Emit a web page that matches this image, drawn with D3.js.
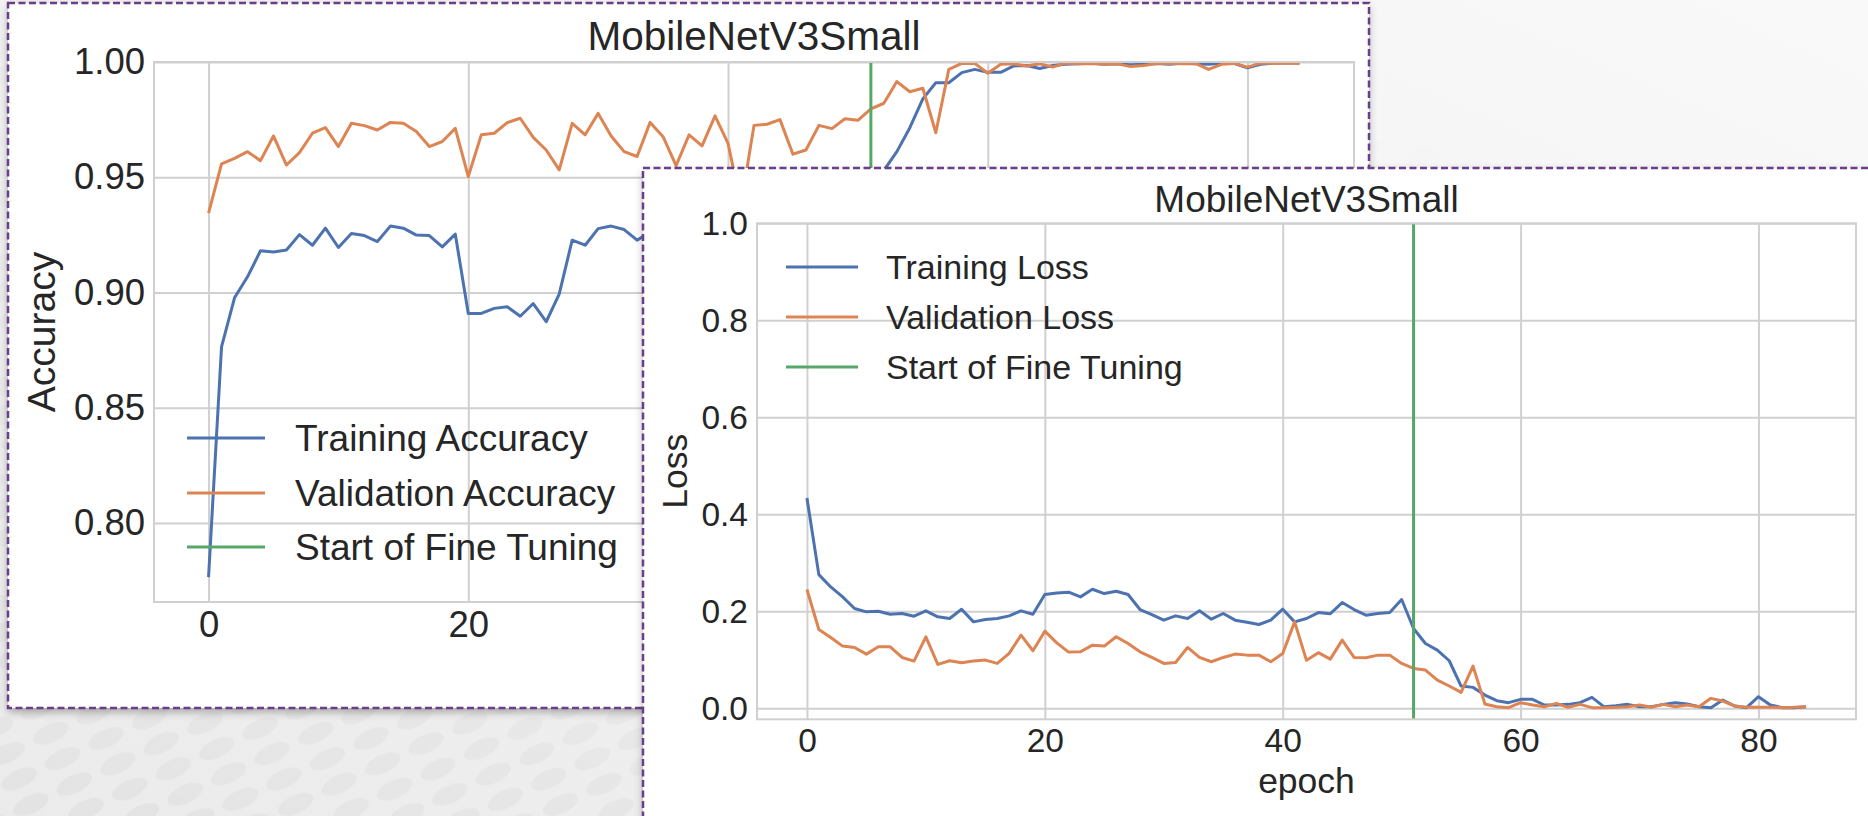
<!DOCTYPE html>
<html lang="en">
<head>
<meta charset="UTF-8" />
<title>MobileNetV3Small - accuracy and loss</title>
<script src="https://cdn.jsdelivr.net/npm/d3@7"></script>
<style>
  body { margin: 0; background: #f2f2f2; }
  svg { display: block; font-family: "Liberation Sans", Arial, sans-serif; }
</style>
</head>
<body>
<svg id="chart" width="1868" height="816"></svg>
<script>
// ---- data ----
const epochs = d3.range(0, 85);
const fineTuneEpoch = 51;
const epochTicks = [0, 20, 40, 60, 80];
const accTicks = [0.80, 0.85, 0.90, 0.95, 1.00];
const lossTicks = [0.0, 0.2, 0.4, 0.6, 0.8, 1.0];

const trainAcc = [
  0.7765, 0.8764, 0.8977, 0.9068, 0.9181, 0.9176, 0.9184, 0.9251, 0.9205, 0.9279,
  0.9195, 0.9256, 0.9247, 0.9221, 0.9288, 0.9279, 0.9249, 0.9247, 0.9198, 0.9253,
  0.8909, 0.8909, 0.8931, 0.8938, 0.8897, 0.8952, 0.8873, 0.8993, 0.9227, 0.9205,
  0.9277, 0.9288, 0.9273, 0.9227, 0.9262, 0.9281, 0.9255, 0.9290, 0.9268, 0.9301,
  0.9275, 0.9250, 0.9287, 0.9296, 0.9270, 0.9305, 0.9284, 0.9299, 0.9310, 0.9288,
  0.9302, 0.9320, 0.9530, 0.9611, 0.9715, 0.9840, 0.9910, 0.9910, 0.9954, 0.9968,
  0.9955, 0.9955, 0.9983, 0.9985, 0.9972, 0.9985, 0.9990, 0.9992, 0.9995, 0.9990,
  0.9992, 0.9988, 0.9990, 0.9993, 0.9990, 0.9995, 0.9992, 0.9990, 0.9995, 0.9993,
  0.9975, 0.9990, 0.9995, 0.9997, 0.9995
];
const valAcc = [
  0.9344, 0.9558, 0.9582, 0.9611, 0.9572, 0.9679, 0.9553, 0.9607, 0.9691, 0.9715,
  0.9633, 0.9734, 0.9724, 0.9705, 0.9738, 0.9734, 0.9698, 0.9633, 0.9655, 0.9712,
  0.9503, 0.9684, 0.9691, 0.9737, 0.9756, 0.9673, 0.9618, 0.9532, 0.9734, 0.9684,
  0.9777, 0.9679, 0.9611, 0.9590, 0.9738, 0.9676, 0.9550, 0.9684, 0.9636, 0.9766,
  0.9647, 0.9380, 0.9725, 0.9730, 0.9750, 0.9600, 0.9618, 0.9725, 0.9711, 0.9754,
  0.9747, 0.9797, 0.9821, 0.9915, 0.9871, 0.9886, 0.9693, 0.9968, 0.9994, 0.9994,
  0.9951, 0.9990, 0.9992, 0.9983, 0.9992, 0.9978, 0.9995, 0.9992, 0.9994, 0.9990,
  0.9992, 0.9980, 0.9985, 0.9993, 0.9995, 0.9992, 0.9994, 0.9968, 0.9990, 0.9994,
  0.9978, 0.9995, 0.9994, 0.9996, 0.9995
];
const trainLoss = [
  0.4335, 0.2757, 0.2503, 0.2298, 0.2058, 0.1989, 0.2003, 0.1941, 0.1955, 0.1900,
  0.2010, 0.1886, 0.1852, 0.2044, 0.1783, 0.1831, 0.1852, 0.1907, 0.2010, 0.1941,
  0.2346, 0.2380, 0.2394, 0.2298, 0.2455, 0.2366, 0.2414, 0.2346, 0.2037, 0.1934,
  0.1818, 0.1907, 0.1852, 0.2010, 0.1838, 0.1955, 0.1818, 0.1776, 0.1728, 0.1818,
  0.2044, 0.1783, 0.1852, 0.1975, 0.1950, 0.2181, 0.2037, 0.1920, 0.1955, 0.1975,
  0.2243, 0.1646, 0.1337, 0.1200, 0.0981, 0.0460, 0.0432, 0.0274, 0.0158, 0.0117,
  0.0185, 0.0185, 0.0069, 0.0069, 0.0082, 0.0117, 0.0226, 0.0034, 0.0055, 0.0082,
  0.0034, 0.0034, 0.0082, 0.0117, 0.0089, 0.0034, 0.0014, 0.0171, 0.0048, 0.0014,
  0.0240, 0.0069, 0.0014, 0.0014, 0.0034
];
const valLoss = [
  0.2449, 0.1626, 0.1461, 0.1283, 0.1255, 0.1118, 0.1269, 0.1269, 0.1049, 0.0974,
  0.1475, 0.0905, 0.0981, 0.0940, 0.0974, 0.0995, 0.0926, 0.1132, 0.1509, 0.1187,
  0.1591, 0.1351, 0.1159, 0.1166, 0.1303, 0.1283, 0.1475, 0.1337, 0.1166, 0.1049,
  0.0926, 0.0947, 0.1255, 0.1049, 0.0960, 0.1049, 0.1118, 0.1097, 0.1097, 0.0960,
  0.1132, 0.1783, 0.0990, 0.1148, 0.1015, 0.1406, 0.1049, 0.1043, 0.1097, 0.1097,
  0.0926, 0.0823, 0.0789, 0.0583, 0.0460, 0.0329, 0.0871, 0.0089, 0.0034, 0.0014,
  0.0117, 0.0069, 0.0034, 0.0103, 0.0021, 0.0082, 0.0014, 0.0014, 0.0021, 0.0034,
  0.0069, 0.0021, 0.0082, 0.0034, 0.0069, 0.0034, 0.0206, 0.0151, 0.0048, 0.0021,
  0.0021, 0.0021, 0.0014, 0.0021, 0.0034
];

const colors = { train: '#4C72B0', val: '#DD8452', tune: '#55A868', grid: '#d0d0d0', text: '#262626' };

const svg = d3.select('#chart');
const defs = svg.append('defs');

// background: light grey slide, faint oval pattern fading out towards the top right
const bgGrad = defs.append('linearGradient').attr('id', 'bgGrad')
  .attr('x1', '0%').attr('y1', '100%').attr('x2', '100%').attr('y2', '0%');
bgGrad.append('stop').attr('offset', '0%').attr('stop-color', '#ebebeb');
bgGrad.append('stop').attr('offset', '100%').attr('stop-color', '#f9f9f9');
const pat = defs.append('pattern').attr('id', 'ovals')
  .attr('width', 48).attr('height', 28).attr('patternUnits', 'userSpaceOnUse')
  .attr('patternTransform', 'rotate(-25)');
pat.append('ellipse').attr('cx', 24).attr('cy', 14).attr('rx', 19).attr('ry', 9)
  .attr('fill', '#000').attr('opacity', 0.03);
const fade = defs.append('linearGradient').attr('id', 'fade')
  .attr('x1', '0%').attr('y1', '100%').attr('x2', '60%').attr('y2', '0%');
fade.append('stop').attr('offset', '0%').attr('stop-color', '#fff');
fade.append('stop').attr('offset', '100%').attr('stop-color', '#000');
defs.append('mask').attr('id', 'fadeMask').append('rect')
  .attr('width', 1868).attr('height', 816).attr('fill', 'url(#fade)');

const shadow = defs.append('filter').attr('id', 'shadow')
  .attr('x', '-5%').attr('y', '-5%').attr('width', '110%').attr('height', '115%');
shadow.append('feDropShadow').attr('dx', 0).attr('dy', 4).attr('stdDeviation', 4)
  .attr('flood-color', '#000').attr('flood-opacity', 0.3);

svg.append('rect').attr('width', 1868).attr('height', 816).attr('fill', 'url(#bgGrad)');
svg.append('rect').attr('width', 1868).attr('height', 816).attr('fill', 'url(#ovals)')
  .attr('mask', 'url(#fadeMask)');

const lossPanel = [643, 168, 1300, 700];

const drawPanel = (p) => {
  const g = svg.append('g');

  // the pasted figure with its dashed purple border
  g.append('rect')
    .attr('x', p.panel[0]).attr('y', p.panel[1])
    .attr('width', p.panel[2]).attr('height', p.panel[3])
    .attr('fill', '#fff')
    .attr('filter', 'url(#shadow)');
  g.append('rect')
    .attr('x', p.panel[0]).attr('y', p.panel[1])
    .attr('width', p.panel[2]).attr('height', p.panel[3])
    .attr('fill', 'none')
    .attr('stroke', '#6a3e88').attr('stroke-width', 2.5)
    .attr('stroke-dasharray', '7 3.5');

  const x = d3.scaleLinear().domain([-4.2, 88.2]).range([p.left, p.left + p.w]);
  const y = d3.scaleLinear().domain(p.yDomain).range([p.top + p.h, p.top]);

  const yAxis = g.append('g')
    .attr('transform', `translate(${p.left},0)`)
    .call(d3.axisLeft(y).tickValues(p.yTicks).tickFormat(d3.format(p.yFormat))
      .tickSize(-p.w).tickPadding(9));
  const xAxis = g.append('g')
    .attr('transform', `translate(0,${p.top + p.h})`)
    .call(d3.axisBottom(x).tickValues(epochTicks).tickFormat(d3.format('d'))
      .tickSize(-p.h).tickPadding(9));
  [yAxis, xAxis].forEach(a => {
    a.select('.domain').remove();
    a.selectAll('.tick line').attr('stroke', colors.grid).attr('stroke-width', 2);
    a.selectAll('.tick text').attr('fill', colors.text)
      .style('font-size', p.tickSize + 'px');
  });
  // labels covered by the figure in front are not visible
  if (p.hiddenRight) {
    xAxis.selectAll('.tick text').filter(d => x(d) > p.hiddenRight).remove();
  }

  const clipId = 'clip' + p.id;
  defs.append('clipPath').attr('id', clipId).append('rect')
    .attr('x', p.left).attr('y', p.top).attr('width', p.w).attr('height', p.h);

  const line = d3.line().x((d, i) => x(epochs[i])).y(d => y(d));
  const plot = g.append('g').attr('clip-path', `url(#${clipId})`);
  p.series.forEach(s => {
    plot.append('path').datum(s.values)
      .attr('d', line)
      .attr('fill', 'none')
      .attr('stroke', s.color)
      .attr('stroke-width', 3)
      .attr('stroke-linejoin', 'round');
  });
  plot.append('line')
    .attr('x1', x(fineTuneEpoch)).attr('x2', x(fineTuneEpoch))
    .attr('y1', y(p.yDomain[0])).attr('y2', y(p.yDomain[1]))
    .attr('stroke', colors.tune).attr('stroke-width', 3);

  // frame
  g.append('rect')
    .attr('x', p.left).attr('y', p.top).attr('width', p.w).attr('height', p.h)
    .attr('fill', 'none').attr('stroke', colors.grid).attr('stroke-width', 2);

  // title & labels
  g.append('text')
    .attr('x', p.left + p.w / 2).attr('y', p.titleY)
    .attr('text-anchor', 'middle').attr('fill', colors.text)
    .style('font-size', p.titleSize + 'px')
    .text('MobileNetV3Small');
  g.append('text')
    .attr('transform', `translate(${p.yLabelX},${p.top + p.h / 2}) rotate(-90)`)
    .attr('text-anchor', 'middle').attr('fill', colors.text)
    .style('font-size', p.labelSize + 'px')
    .text(p.yLabel);
  if (p.xLabel) {
    g.append('text')
      .attr('x', p.left + p.w / 2).attr('y', p.xLabelY)
      .attr('text-anchor', 'middle').attr('fill', colors.text)
      .style('font-size', p.labelSize + 'px')
      .text(p.xLabel);
  }

  // legend (no frame)
  const entries = p.series.map(s => ({ label: s.label, color: s.color }))
    .concat([{ label: 'Start of Fine Tuning', color: colors.tune }]);
  entries.forEach((e, i) => {
    const ry = p.legend.rows[i];
    g.append('line')
      .attr('x1', p.legend.x1).attr('x2', p.legend.x2)
      .attr('y1', ry).attr('y2', ry)
      .attr('stroke', e.color).attr('stroke-width', 3);
    g.append('text')
      .attr('x', p.legend.tx).attr('y', ry + p.legend.size * 0.35)
      .attr('fill', colors.text)
      .style('font-size', p.legend.size + 'px')
      .text(e.label);
  });
};

// accuracy figure (behind)
drawPanel({
  id: 'acc',
  panel: [8, 3, 1361, 705],
  left: 154, top: 62, w: 1200, h: 540,
  yDomain: [0.7657, 1.0], yTicks: accTicks, yFormat: '.2f',
  tickSize: 36.5, titleSize: 40.5, titleY: 50, labelSize: 39,
  yLabel: 'Accuracy', yLabelX: 55, hiddenRight: lossPanel[0],
  series: [
    { label: 'Training Accuracy', values: trainAcc, color: colors.train },
    { label: 'Validation Accuracy', values: valAcc, color: colors.val }
  ],
  legend: { x1: 187, x2: 265, tx: 295, rows: [438, 493, 547], size: 37 }
});

// loss figure (front)
drawPanel({
  id: 'loss',
  panel: lossPanel,
  left: 757, top: 223.3, w: 1099, h: 496,
  yDomain: [-0.0226, 1.0], yTicks: lossTicks, yFormat: '.1f',
  tickSize: 33.5, titleSize: 37, titleY: 211.7, labelSize: 35.5,
  yLabel: 'Loss', yLabelX: 687, xLabel: 'epoch', xLabelY: 793,
  series: [
    { label: 'Training Loss', values: trainLoss, color: colors.train },
    { label: 'Validation Loss', values: valLoss, color: colors.val }
  ],
  legend: { x1: 786, x2: 858, tx: 886, rows: [267, 317, 367], size: 34 }
});
</script>
</body>
</html>
